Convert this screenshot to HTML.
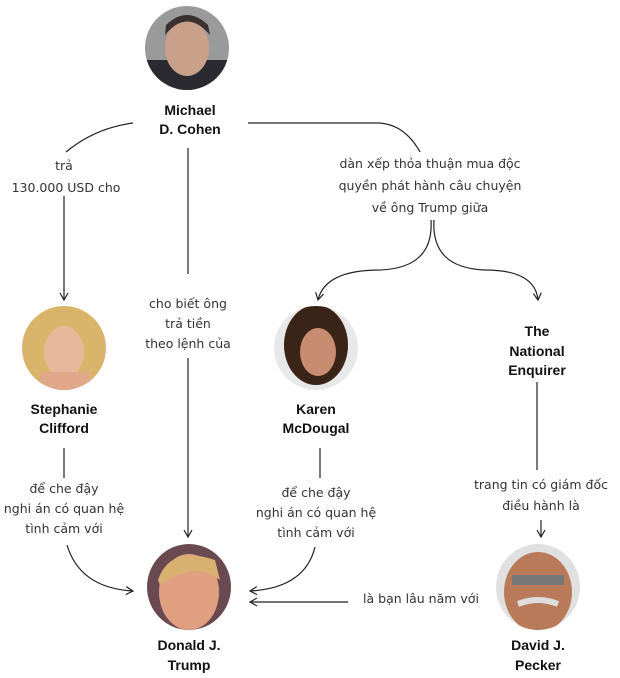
<!DOCTYPE html>
<html><head><meta charset="utf-8"><style>
html,body{margin:0;padding:0;background:#fff;}
svg{display:block;}
.t{font-family:"DejaVu Sans","Liberation Sans",sans-serif;font-size:12.5px;fill:#333;text-anchor:middle;}
.b{font-family:"Liberation Sans",sans-serif;font-size:14px;font-weight:bold;fill:#111;text-anchor:middle;}
.l{stroke:#222;stroke-width:1.2;fill:none;}
</style></head><body>
<svg width="620" height="678" viewBox="0 0 620 678" xmlns="http://www.w3.org/2000/svg">
<defs>
<marker id="a" markerWidth="10" markerHeight="10" refX="8" refY="5" orient="auto" markerUnits="userSpaceOnUse"><path d="M1,1 L8,5 L1,9" fill="none" stroke="#222" stroke-width="1.2"/></marker>
<clipPath id="c1"><circle cx="187" cy="48" r="42"/></clipPath>
<clipPath id="c2"><circle cx="64" cy="348" r="42"/></clipPath>
<clipPath id="c3"><circle cx="316" cy="348" r="42"/></clipPath>
<clipPath id="c4"><ellipse cx="189" cy="587" rx="42" ry="43"/></clipPath>
<clipPath id="c5"><ellipse cx="538" cy="587" rx="42" ry="43"/></clipPath>
</defs>
<!-- photos -->
<g clip-path="url(#c1)"><rect x="140" y="0" width="95" height="95" fill="#9a9a9a"/><rect x="140" y="60" width="95" height="40" fill="#2a2a30"/><ellipse cx="187" cy="48" rx="22" ry="28" fill="#c9a08a"/><path d="M165,35 Q187,8 210,35 L208,25 Q187,5 166,25Z" fill="#3a3030"/></g>
<g clip-path="url(#c2)"><rect x="20" y="305" width="90" height="90" fill="#d9b46a"/><ellipse cx="64" cy="352" rx="20" ry="26" fill="#e8b89a"/><rect x="40" y="372" width="50" height="20" fill="#e0a888"/></g>
<g clip-path="url(#c3)"><rect x="272" y="305" width="90" height="90" fill="#e8e8e8"/><ellipse cx="316" cy="345" rx="32" ry="40" fill="#3a2418"/><ellipse cx="318" cy="352" rx="18" ry="24" fill="#c88c70"/></g>
<g clip-path="url(#c4)"><rect x="145" y="543" width="90" height="90" fill="#6a4a50"/><ellipse cx="189" cy="592" rx="30" ry="38" fill="#e0a080"/><path d="M158,580 Q170,545 215,560 L220,580 Q195,560 160,585Z" fill="#d8b070"/></g>
<g clip-path="url(#c5)"><rect x="494" y="543" width="90" height="90" fill="#e0e0e0"/><ellipse cx="538" cy="592" rx="34" ry="40" fill="#b87a58"/><rect x="512" y="575" width="52" height="10" fill="#777"/><path d="M518,604 Q538,596 558,604" stroke="#ddd" stroke-width="6" fill="none"/></g>
<!-- names -->
<text class="b" x="190" y="115">Michael</text><text class="b" x="190" y="134">D. Cohen</text>
<text class="b" x="64" y="414">Stephanie</text><text class="b" x="64" y="433">Clifford</text>
<text class="b" x="316" y="414">Karen</text><text class="b" x="316" y="433">McDougal</text>
<text class="b" x="537" y="336">The</text><text class="b" x="537" y="356">National</text><text class="b" x="537" y="375">Enquirer</text>
<text class="b" x="189" y="650">Donald J.</text><text class="b" x="189" y="670">Trump</text>
<text class="b" x="538" y="650">David J.</text><text class="b" x="538" y="670">Pecker</text>
<!-- lines -->
<path class="l" d="M133,123 Q95,128 66,152"/>
<path class="l" d="M64,196 L64,300" marker-end="url(#a)"/>
<path class="l" d="M188,148 L188,274"/>
<path class="l" d="M188,358 L188,537" marker-end="url(#a)"/>
<path class="l" d="M248,123 L380,123 Q405,125 420,152"/>
<path class="l" d="M431,220 Q434,268 380,270 Q325,270 318,300" marker-end="url(#a)"/>
<path class="l" d="M434,220 Q431,268 485,270 Q535,270 538,300" marker-end="url(#a)"/>
<path class="l" d="M537,382 L537,470"/>
<path class="l" d="M541,520 L541,537" marker-end="url(#a)"/>
<path class="l" d="M64,448 L64,478"/>
<path class="l" d="M67,545 Q80,588 133,591" marker-end="url(#a)"/>
<path class="l" d="M320,448 L320,478"/>
<path class="l" d="M315,547 Q305,588 250,591" marker-end="url(#a)"/>
<path class="l" d="M348,602 L250,602" marker-end="url(#a)"/>
<!-- labels -->
<text class="t" x="64" y="170">trả</text><text class="t" x="66" y="192">130.000 USD cho</text>
<text class="t" x="188" y="308">cho biết ông</text><text class="t" x="188" y="328">trả tiền</text><text class="t" x="188" y="348">theo lệnh của</text>
<text class="t" x="430" y="168">dàn xếp thỏa thuận mua độc</text><text class="t" x="430" y="190">quyền phát hành câu chuyện</text><text class="t" x="430" y="212">về ông Trump giữa</text>
<text class="t" x="541" y="489">trang tin có giám đốc</text><text class="t" x="541" y="510">điều hành là</text>
<text class="t" x="64" y="493">để che đậy</text><text class="t" x="64" y="513">nghi án có quan hệ</text><text class="t" x="64" y="533">tình cảm với</text>
<text class="t" x="316" y="497">để che đậy</text><text class="t" x="316" y="517">nghi án có quan hệ</text><text class="t" x="316" y="537">tình cảm với</text>
<text class="t" x="421" y="603">là bạn lâu năm với</text>
</svg>
</body></html>
